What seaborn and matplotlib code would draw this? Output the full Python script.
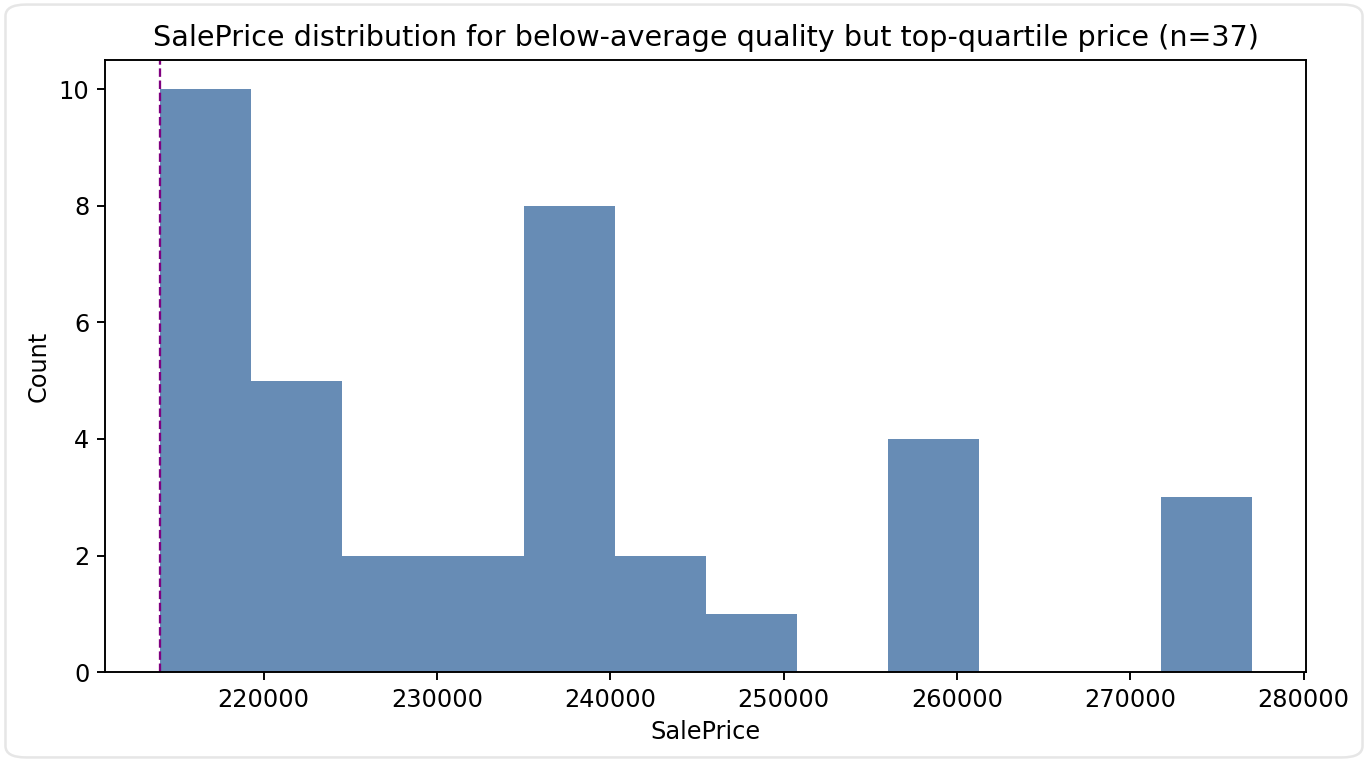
import numpy as np
import pandas as pd
import matplotlib
matplotlib.use("Agg")
import matplotlib.pyplot as plt
import seaborn as sns
from matplotlib.patches import FancyBboxPatch

# values
price_min = 214000
price_max = 277000
threshold = 214000   # top-quartile cut (75th pct of SalePrice)
n_bins = 12
counts = [10, 5, 2, 2, 8, 2, 1, 0, 4, 0, 0, 3]

edges = np.linspace(price_min, price_max, n_bins + 1)
centers = (edges[:-1] + edges[1:]) / 2
df = pd.DataFrame({'SalePrice': centers, 'n': counts})

plt.rcParams['axes.linewidth'] = 0.92
plt.rcParams['xtick.major.size'] = 4
plt.rcParams['ytick.major.size'] = 4
plt.rcParams['xtick.major.width'] = 0.92
plt.rcParams['ytick.major.width'] = 0.92

fig = plt.figure(figsize=(9.12, 5.08), dpi=150)
ax = fig.add_axes([0.0768, 0.118, 0.878, 0.803])

sns.histplot(data=df, x='SalePrice', weights='n', bins=n_bins,
             binrange=(price_min, price_max), color='#4C78A8',
             alpha=0.85, linewidth=0, edgecolor='none', ax=ax)
ax.axvline(threshold, color='purple', linestyle='--', linewidth=1.1)

ax.set_title('SalePrice distribution for below-average quality but top-quartile price (n=37)',
             fontsize=13.75, pad=7)
ax.set_xlabel('SalePrice', fontsize=11.5)
ax.set_ylabel('Count', fontsize=11.5)
ax.tick_params(labelsize=11.5)
ax.ticklabel_format(axis='x', style='plain', useOffset=False)

# light rounded frame round the figure
fig.patches.append(FancyBboxPatch((0.004, 0.006), 0.992, 0.988,
                                  boxstyle='round,pad=0,rounding_size=0.015',
                                  transform=fig.transFigure, fill=False,
                                  edgecolor='#e6e6e6', linewidth=1.2))

fig.savefig('out.png', dpi=150)
